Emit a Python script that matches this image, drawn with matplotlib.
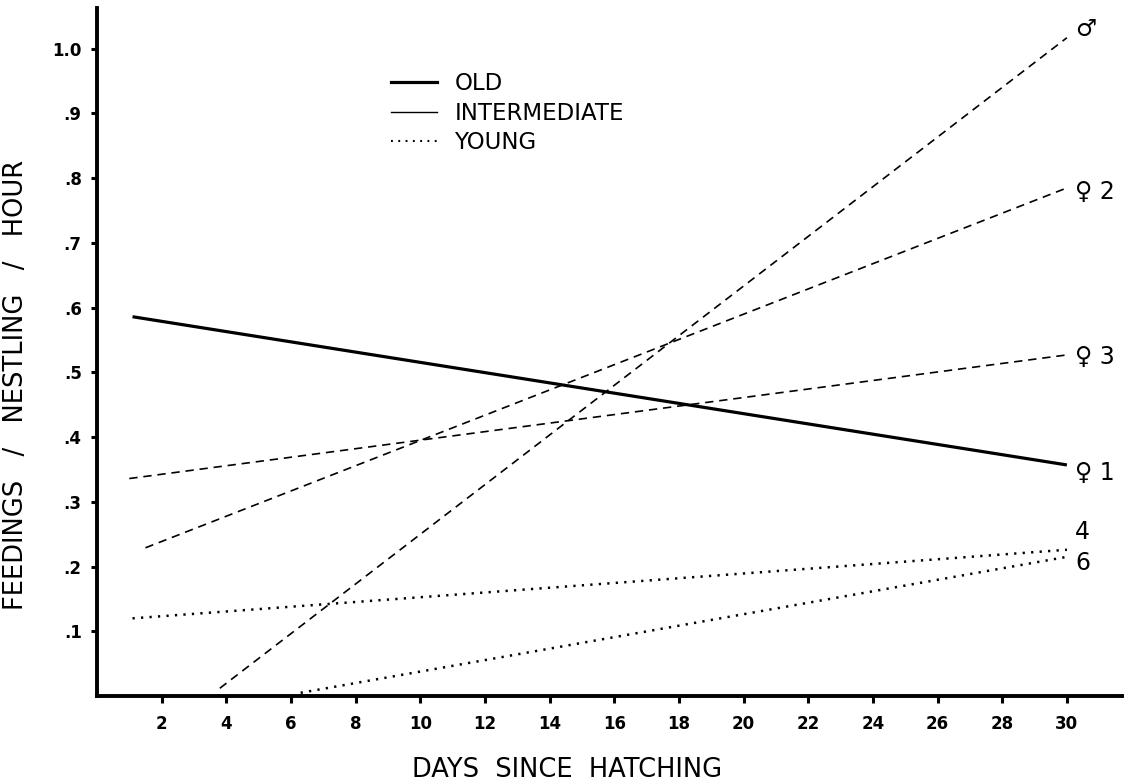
import matplotlib
matplotlib.use('Agg')
import matplotlib.pyplot as plt
from matplotlib.lines import Line2D

# regression lines: (start day, end day), (start value, end value)
old_days = [1.1, 30.0]
old_vals = [0.586, 0.357]

male_days = [3.8, 30.0]
male_vals = [0.012, 1.017]
fem2_days = [1.5, 30.0]
fem2_vals = [0.229, 0.785]
fem3_days = [1.0, 30.0]
fem3_vals = [0.336, 0.527]

young4_days = [1.1, 30.0]
young4_vals = [0.120, 0.226]
young6_days = [6.3, 30.0]
young6_vals = [0.005, 0.215]

end_labels = ['\u2642', '\u2640 2', '\u2640 3', '\u2640 1', '4', '6']
end_label_vals = [1.03, 0.779, 0.524, 0.345, 0.253, 0.206]

xticks = list(range(2, 31, 2))
yticks = [0.1, 0.2, 0.3, 0.4, 0.5, 0.6, 0.7, 0.8, 0.9, 1.0]
ytick_labels = ['.1', '.2', '.3', '.4', '.5', '.6', '.7', '.8', '.9', '1.0']

fig = plt.figure(figsize=(11.3, 7.81), dpi=100)
ax = fig.add_axes([0.0858, 0.1088, 0.907, 0.881])

ax.plot(old_days, old_vals, color='black', lw=2.3, solid_capstyle='butt')
for d, v in [(male_days, male_vals), (fem2_days, fem2_vals), (fem3_days, fem3_vals)]:
    ax.plot(d, v, color='black', lw=1.2, dashes=(5, 3.5))
for d, v in [(young4_days, young4_vals), (young6_days, young6_vals)]:
    ax.plot(d, v, color='black', lw=1.8, dashes=(0.9, 2.5))

for lab, v in zip(end_labels, end_label_vals):
    ax.text(30.25, v, lab, fontsize=17, family=['DejaVu Sans'], va='center', ha='left')

handles = [Line2D([], [], color='black', lw=2.3),
           Line2D([], [], color='black', lw=1.0),
           Line2D([], [], color='black', lw=1.5, dashes=(0.9, 2.6))]
ax.legend(handles, ['OLD', 'INTERMEDIATE', 'YOUNG'], loc='upper left',
          bbox_to_anchor=(0.276, 0.924), frameon=False, handlelength=2.0,
          handletextpad=0.75, labelspacing=0.3, borderpad=0,
          prop={'family': 'DejaVu Sans', 'size': 16.5})

ax.set_xlim(0, 31.7)
ax.set_ylim(0, 1.063)
ax.set_xticks(xticks)
ax.set_xticklabels([str(t) for t in xticks], fontsize=12, fontweight='bold', family='DejaVu Sans')
ax.set_yticks(yticks)
ax.set_yticklabels(ytick_labels, fontsize=12, fontweight='bold', family='DejaVu Sans')
ax.tick_params(axis='x', direction='out', length=5, width=2.2, pad=9)
ax.tick_params(axis='y', direction='out', length=4, width=2.2, pad=7)

for s in ['top', 'right']:
    ax.spines[s].set_visible(False)
for s in ['left', 'bottom']:
    ax.spines[s].set_linewidth(2.8)

ax.set_xlabel('DAYS  SINCE  HATCHING', fontsize=18.5, family='DejaVu Sans')
ax.set_ylabel('FEEDINGS   /   NESTLING   /   HOUR', fontsize=18.5, family='DejaVu Sans')
ax.xaxis.set_label_coords(0.459, -0.088)
ax.yaxis.set_label_coords(-0.066, 0.452)

fig.savefig('out.png', dpi=100)
